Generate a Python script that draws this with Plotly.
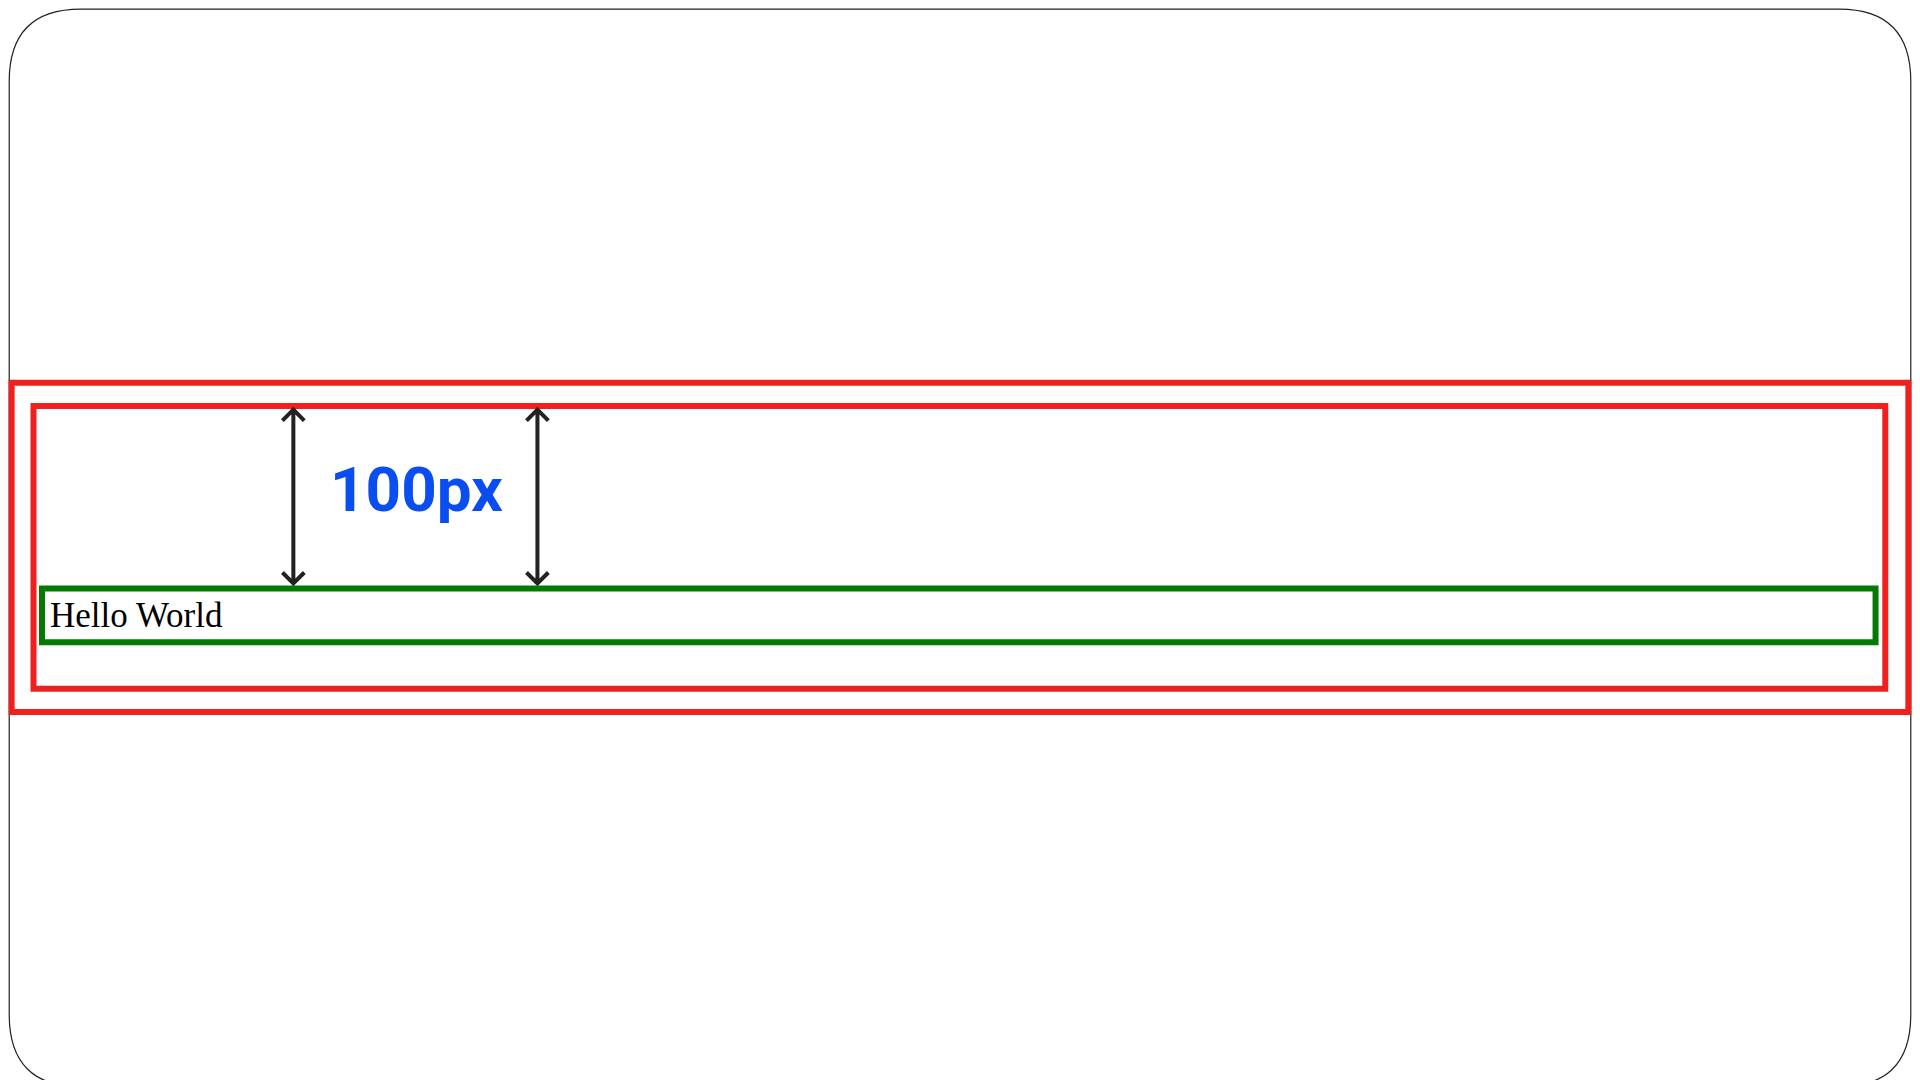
import plotly.graph_objects as go

# reference pixel space (image is 1568 x 882)
W, H = 1568, 882

# boxes: x0, y0, x1, y1, colour
box_x0 = [3, 21, 28]
box_y0 = [306, 325, 474]
box_x1 = [1565, 1546, 1538]
box_y1 = [575, 556, 518]
box_colors = ["#f0201e", "#f0201e", "#047a04"]

arrow_x = [235, 436]
arrow_top = [328, 328]
arrow_bottom = [470, 470]

label_text = "100px"
label_pos = (336, 393)
hello_text = "Hello World"
hello_pos = (33, 496)

fig = go.Figure()
fig.add_trace(go.Scatter(x=[0, W], y=[0, H], mode="markers", marker=dict(opacity=0), hoverinfo="skip"))

r = 60
fig.add_shape(type="path", xref="x", yref="y",
              path=f"M {r},1 L {W-r},1 Q {W-1},1 {W-1},{r} L {W-1},{H-r} Q {W-1},{H-1} {W-r},{H-1} "
                   f"L {r},{H-1} Q 1,{H-1} 1,{H-r} L 1,{r} Q 1,1 {r},1 Z",
              line=dict(color="#222", width=1.2))

for x0, y0, x1, y1, c in zip(box_x0, box_y0, box_x1, box_y1, box_colors):
    fig.add_shape(type="rect", xref="x", yref="y", x0=x0, y0=y0, x1=x1, y1=y1,
                  line=dict(color=c, width=6))

# double arrows with open chevron heads
hw, hh = 9, 9
for x, t, b in zip(arrow_x, arrow_top, arrow_bottom):
    p = (f"M {x},{t} L {x},{b} "
         f"M {x-hw},{t+hh} L {x},{t} L {x+hw},{t+hh} "
         f"M {x-hw},{b-hh} L {x},{b} L {x+hw},{b-hh}")
    fig.add_shape(type="path", xref="x", yref="y", path=p, line=dict(color="#222", width=4))

fig.add_annotation(x=label_pos[0], y=label_pos[1], text=f"<b>{label_text}</b>", showarrow=False,
                   font=dict(family="Roboto", size=62, color="#0a4df0"))
fig.add_annotation(x=hello_pos[0], y=hello_pos[1], text=hello_text, showarrow=False, xanchor="left",
                   font=dict(family="Liberation Serif", size=35, color="black"))

fig.update_xaxes(range=[0, W], visible=False)
fig.update_yaxes(range=[H, 0], visible=False)
fig.update_layout(autosize=True, margin=dict(l=0, r=0, t=0, b=0),
                  plot_bgcolor="white", paper_bgcolor="white", showlegend=False)
fig.write_html("out.html", default_width="100%", default_height="100vh")
